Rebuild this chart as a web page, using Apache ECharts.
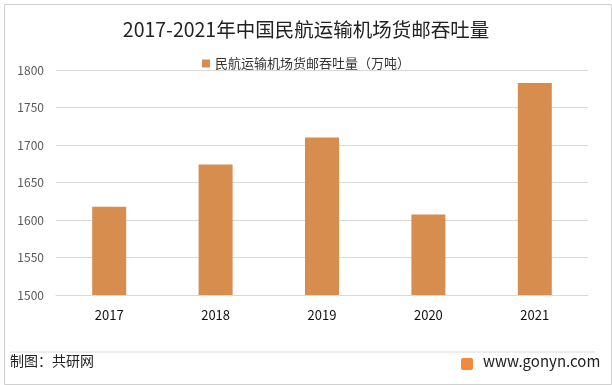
<!DOCTYPE html>
<html><head><meta charset="utf-8">
<script src="https://cdn.jsdelivr.net/npm/echarts@6/dist/echarts.min.js"></script>
<style>html,body{margin:0;padding:0;background:#fff}#c{width:612px;height:385px}</style>
</head><body><div id="c"></div>
<script>
const categories = ['2017','2018','2019','2020','2021'];
const values = [1617.7, 1674.0, 1710.0, 1607.5, 1782.8];
const seriesName = '民航运输机场货邮吞吐量（万吨）';
const titleText = '2017-2021年中国民航运输机场货邮吞吐量';
const yMin = 1500, yMax = 1800, yStep = 50;

const chart = echarts.init(document.getElementById('c'));
const font = '"Microsoft YaHei","Noto Sans CJK SC","DejaVu Sans",sans-serif';
chart.setOption({
  backgroundColor: '#fff',
  animation: false,
  title: { text: titleText, left: 'center', top: 15,
    textStyle: { fontSize: 19.5, fontWeight: 'normal', color: '#222', fontFamily: font } },
  legend: { top: 52, left: 'center', itemWidth: 8, itemHeight: 8, icon: 'rect', itemGap: 4,
    textStyle: { fontSize: 13, color: '#333', fontFamily: font }, data: [seriesName] },
  grid: { left: 56, right: 24, top: 70, bottom: 90, containLabel: false },
  xAxis: { type: 'category', data: categories,
    axisLine: { lineStyle: { color: '#d9d9d9' } }, axisTick: { show: false },
    axisLabel: { fontSize: 13, color: '#111', margin: 14, fontFamily: font } },
  yAxis: { type: 'value', min: yMin, max: yMax, interval: yStep,
    axisLine: { show: false }, axisTick: { show: false },
    splitLine: { lineStyle: { color: '#d9d9d9' } },
    axisLabel: { fontSize: 12, color: '#595959', margin: 12, fontFamily: font,
      formatter: v => String(v) } },
  series: [{ name: seriesName, type: 'bar', data: values, barWidth: 34,
    itemStyle: { color: '#D68D4E' } }],
  graphic: [
    { type: 'rect', left: 2, top: 2, shape: { width: 607, height: 380 },
      style: { fill: 'none', stroke: '#d0d0d0', lineWidth: 1 } },
    { type: 'line', shape: { x1: 10, y1: 352, x2: 595, y2: 352 },
      style: { stroke: '#d9d9d9', lineWidth: 1 } },
    { type: 'text', left: 10, top: 354, style: { text: '制图：共研网', fontSize: 14, fill: '#222', fontFamily: font } },
    { type: 'rect', left: 461, top: 358, shape: { width: 12, height: 12, r: 2 },
      style: { fill: '#F08A3C' } },
    { type: 'text', left: 483, top: 354, style: { text: 'www.gonyn.com', fontSize: 15, fill: '#222', fontFamily: font } }
  ]
});
</script></body></html>
